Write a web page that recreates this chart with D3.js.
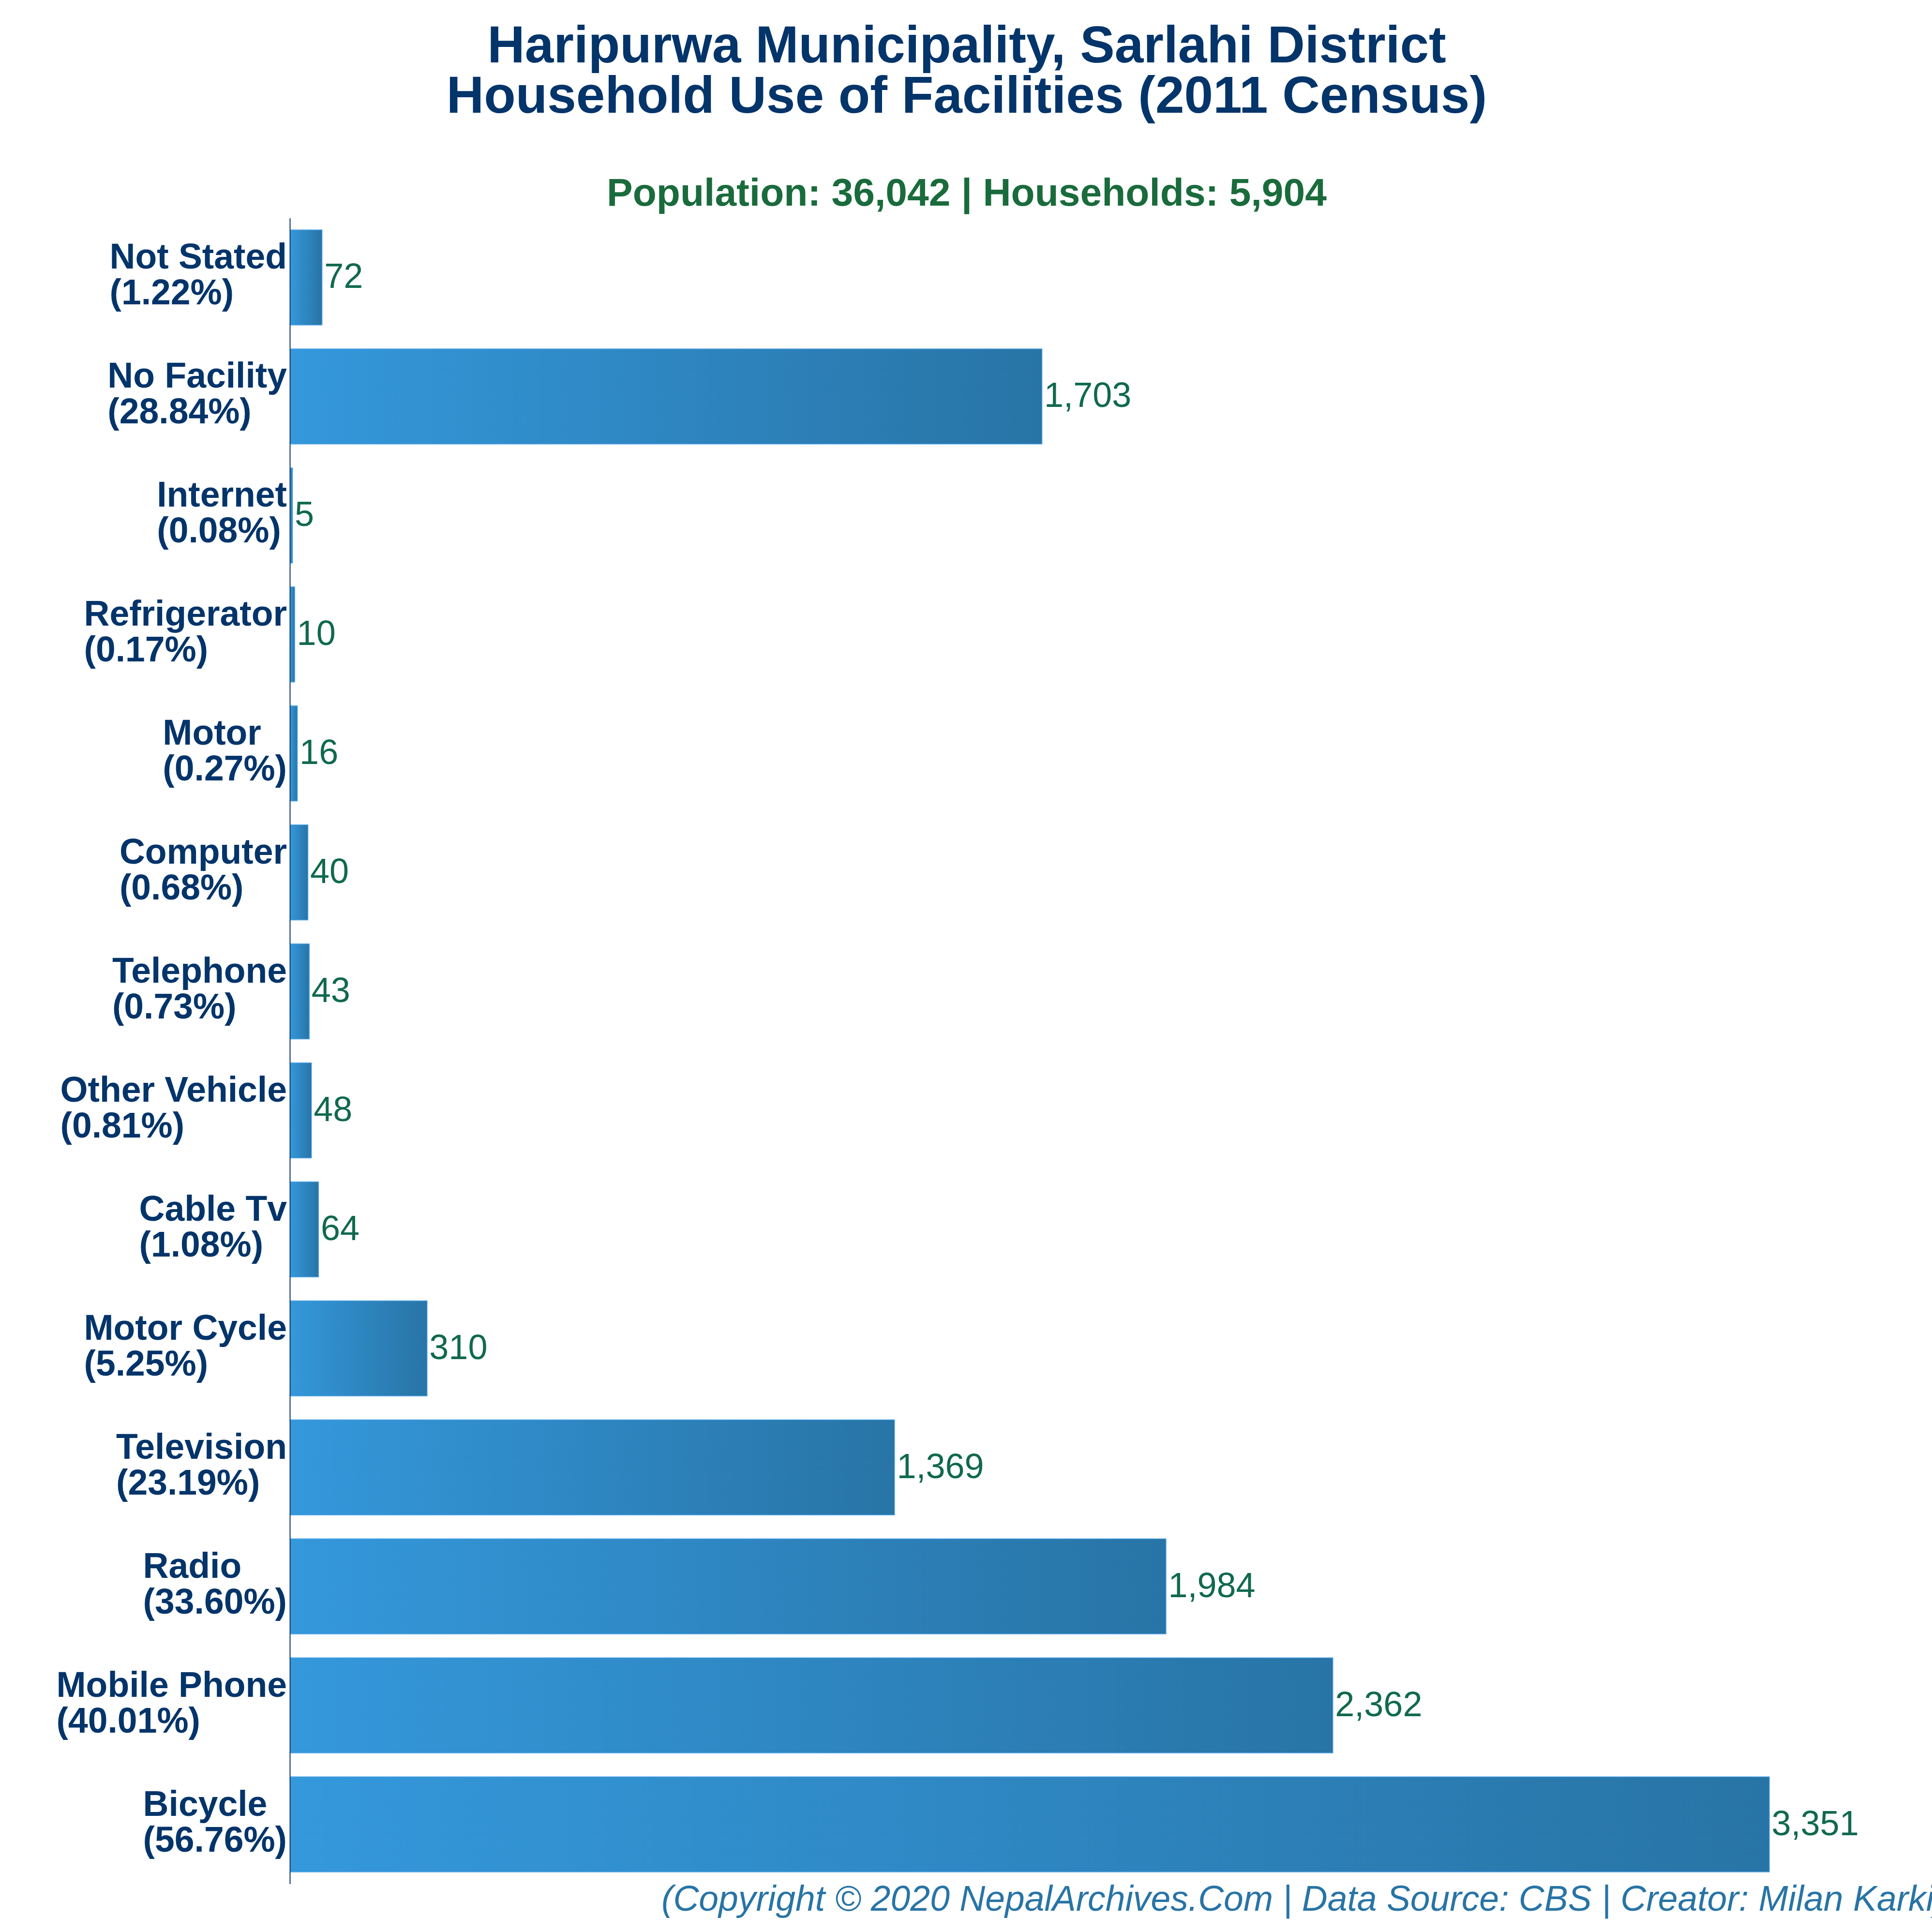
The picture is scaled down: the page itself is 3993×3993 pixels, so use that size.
<!DOCTYPE html>
<html lang="en">
	<head>
		<meta charset="UTF-8">
		<title>Household Use of Facilities</title>
		<script src="https://cdn.jsdelivr.net/npm/d3@7/dist/d3.min.js"></script>
		<style>
			html, body {
				margin: 0;
				background: #fff;
			}

			svg {
				display: block;
				font-family: "Liberation Sans", Arial, sans-serif;
			}
		</style>
	</head>
	<body>
		<div id="container"></div>
		<script>
			// Top bar first
			const categories = ["Not Stated", "No Facility", "Internet", "Refrigerator", "Motor", "Computer", "Telephone",
				"Other Vehicle", "Cable Tv", "Motor Cycle", "Television", "Radio", "Mobile Phone", "Bicycle"];
			const households = [72, 1703, 5, 10, 16, 40, 43, 48, 64, 310, 1369, 1984, 2362, 3351];
			const percents = ["1.22", "28.84", "0.08", "0.17", "0.27", "0.68", "0.73", "0.81", "1.08", "5.25", "23.19", "33.60", "40.01", "56.76"];
			const titleLines = ["Haripurwa Municipality, Sarlahi District", "Household Use of Facilities (2011 Census)"];
			const subtitle = "Population: 36,042 | Households: 5,904";
			const credit = "(Copyright © 2020 NepalArchives.Com | Data Source: CBS | Creator: Milan Karki)";

			const size = 3993;
			const navy = "#03346a";
			const labelRight = 593;

			const svg = d3.select("#container").append("svg")
				.attr("width", size)
				.attr("height", size)
				.attr("viewBox", [0, 0, size, size]);

			const x = d3.scaleLinear()
				.domain([0, d3.max(households)])
				.range([600, 3657]);

			const y = d3.scaleBand()
				.domain(categories)
				.range([450.5, 3893.5])
				.paddingInner(0.2)
				.paddingOuter(0.1);

			const gradient = svg.append("defs").append("linearGradient")
				.attr("id", "bar-fill");
			gradient.append("stop").attr("offset", "0%").attr("stop-color", "#3498db");
			gradient.append("stop").attr("offset", "100%").attr("stop-color", "#2874a6");

			// Bars
			svg.append("g")
				.selectAll("rect")
				.data(categories)
				.join("rect")
				.attr("x", x(0))
				.attr("y", d => y(d))
				.attr("width", (d, i) => x(households[i]) - x(0))
				.attr("height", y.bandwidth())
				.attr("fill", "url(#bar-fill)")
				.attr("stroke", "#52a5e8")
				.attr("stroke-width", 1.5);

			// Axis line and the two-line category labels
			const axis = svg.append("g")
				.attr("transform", `translate(${x(0) - 1},0)`)
				.call(d3.axisLeft(y).tickSize(0));

			axis.select(".domain")
				.attr("stroke", navy)
				.attr("stroke-width", 2);

			const tickText = axis.selectAll(".tick text")
				.attr("text-anchor", "start")
				.attr("dy", null)
				.attr("y", null)
				.attr("x", null)
				.attr("font-family", "Liberation Sans, Arial, sans-serif")
				.attr("font-size", 73.3)
				.attr("font-weight", "bold")
				.attr("fill", navy)
				.text(null);

			tickText.append("tspan").attr("class", "name").attr("dy", -18).text(d => d);
			tickText.append("tspan").attr("class", "pct").attr("dy", 74)
				.text(d => `(${percents[categories.indexOf(d)]}%)`);

			// Both lines start at the same x, the longer one ends at the label edge
			tickText.each(function () {
				const t = d3.select(this);
				const nameW = t.select(".name").node().getComputedTextLength();
				const pctW = t.select(".pct").node().getComputedTextLength();
				const left = labelRight - (x(0) - 1) - Math.max(nameW, pctW);
				t.select(".name").attr("x", left);
				t.select(".pct").attr("x", left);
			});

			// Value labels
			svg.append("g")
				.selectAll("text")
				.data(categories)
				.join("text")
				.attr("x", (d, i) => x(households[i]) + 4.5)
				.attr("y", d => y(d) + y.bandwidth() / 2 + 22)
				.attr("font-size", 72)
				.attr("fill", "#10694f")
				.text((d, i) => d3.format(",")(households[i]));

			// Title block
			svg.append("g")
				.selectAll("text")
				.data(titleLines)
				.join("text")
				.attr("x", 1998)
				.attr("y", (d, i) => 129 + i * 103.5)
				.attr("text-anchor", "middle")
				.attr("font-size", 107.2)
				.attr("font-weight", "bold")
				.attr("fill", navy)
				.text(d => d);

			svg.append("text")
				.attr("x", 1998)
				.attr("y", 425)
				.attr("text-anchor", "middle")
				.attr("font-size", 80.4)
				.attr("font-weight", "bold")
				.attr("fill", "#1a6b3c")
				.text(subtitle);

			svg.append("text")
				.attr("x", 1367)
				.attr("y", 3949)
				.attr("font-size", 73.3)
				.attr("font-style", "italic")
				.attr("fill", "#2874a6")
				.text(credit);
		</script>
	</body>
</html>
